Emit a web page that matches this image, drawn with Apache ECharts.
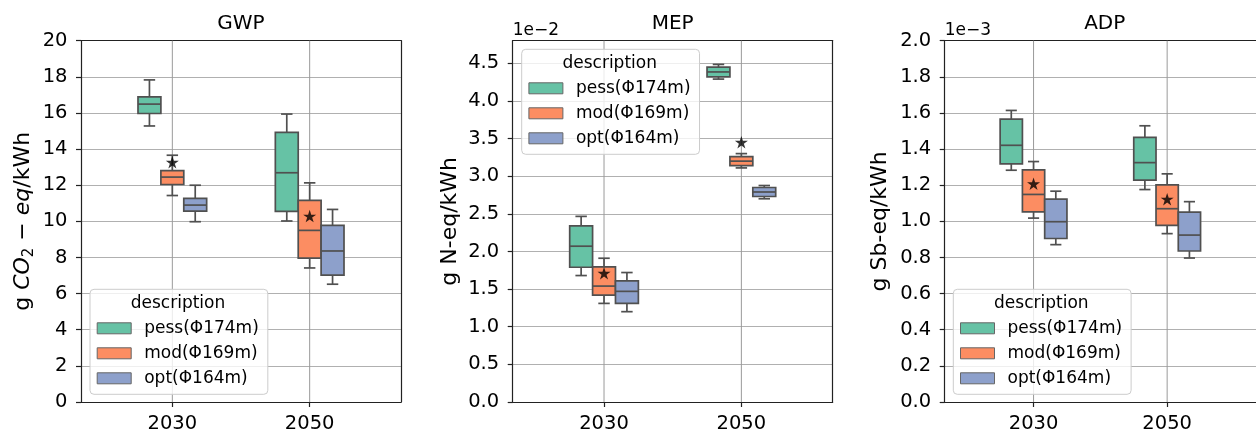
<!DOCTYPE html>
<html>
<head>
<meta charset="utf-8">
<script src="https://cdn.jsdelivr.net/npm/echarts@6/dist/echarts.min.js"></script>
<style>
html,body{margin:0;padding:0;background:#fff;}
#chart{width:1256px;height:434px;}
</style>
</head>
<body>
<div id="chart"></div>
<script>
// ---------- data ----------
const years = ['2030', '2050'];
const scenarios = ['pess(Φ174m)', 'mod(Φ169m)', 'opt(Φ164m)'];
const panelTitles = ['GWP', 'MEP', 'ADP'];

// box stats per year: [whiskerLow, q1, median, q3, whiskerHigh]
const gwpPess = [[15.28, 15.97, 16.49, 16.89, 17.83], [10.02, 10.55, 12.69, 14.93, 15.94]];
const gwpMod  = [[11.43, 12.04, 12.45, 12.81, 13.66], [7.42, 7.96, 9.50, 11.16, 12.13]];
const gwpOpt  = [[9.98, 10.57, 10.90, 11.27, 12.00], [6.52, 7.02, 8.36, 9.78, 10.66]];
const gwpStar = [13.27, 10.29];

// MEP values in units of 1e-2
const mepPess = [[1.68, 1.79, 2.07, 2.34, 2.466], [4.29, 4.32, 4.385, 4.45, 4.485]];
const mepMod  = [[1.31, 1.42, 1.54, 1.795, 1.91], [3.11, 3.14, 3.20, 3.26, 3.30]];
const mepOpt  = [[1.20, 1.31, 1.47, 1.61, 1.72], [2.70, 2.73, 2.79, 2.85, 2.876]];
const mepStar = [1.71, 3.45];

// ADP values in units of 1e-3
const adpPess = [[1.283, 1.318, 1.421, 1.566, 1.614], [1.176, 1.228, 1.325, 1.465, 1.529]];
const adpMod  = [[1.018, 1.053, 1.149, 1.285, 1.331], [0.932, 0.978, 1.070, 1.202, 1.263]];
const adpOpt  = [[0.871, 0.905, 0.998, 1.123, 1.167], [0.797, 0.836, 0.924, 1.051, 1.109]];
const adpStar = [1.208, 1.123];

const gwpTicks = [0, 2, 4, 6, 8, 10, 12, 14, 16, 18, 20];
const mepTicks = [0, 0.5, 1.0, 1.5, 2.0, 2.5, 3.0, 3.5, 4.0, 4.5];
const adpTicks = [0, 0.2, 0.4, 0.6, 0.8, 1.0, 1.2, 1.4, 1.6, 1.8, 2.0];
const exponents = ['', '1e\u22122', '1e\u22123'];

// ---------- styling ----------
const FONT = 'DejaVu Sans';
const colors = ['#66c2a5', '#fc8d62', '#8da0cb'];
const EDGE = '#505050';
const LW = 1.7;
const BOX_W = 1 / 6;
const offsets = [-1 / 6, 0, 1 / 6];
const SPINE = { color: '#222', width: 1.2 };

const panels = [
  { stats: [gwpPess, gwpMod, gwpOpt], star: gwpStar, ticks: gwpTicks, ymax: 20, dec: 0,
    left: 81, legendLeft: 90, legendTop: 289.3, nameGap: 44, rightSpine: true },
  { stats: [mepPess, mepMod, mepOpt], star: mepStar, ticks: mepTicks, ymax: 4.8, dec: 1,
    left: 512.7, legendLeft: 521.7, legendTop: 49.3, nameGap: 48, rightSpine: true },
  { stats: [adpPess, adpMod, adpOpt], star: adpStar, ticks: adpTicks, ymax: 2.0, dec: 1,
    left: 944.7, legendLeft: 953.3, legendTop: 289.3, nameGap: 50, rightSpine: false }
];
const GRID_TOP = 40.7, GRID_H = 362.6, GRID_W = 320;

const yNames = [
  '{n|g }{i|CO}{s|2}{n| \u2212 }{i|eq}{n|/kWh}',
  '{n|g N-eq/kWh}',
  '{n|g Sb-eq/kWh}'
];
const nameRich = {
  n: { fontSize: 22, fontFamily: FONT, color: '#000', lineHeight: 28, verticalAlign: 'middle' },
  i: { fontSize: 22, fontFamily: FONT, color: '#000', fontStyle: 'italic', lineHeight: 28, verticalAlign: 'middle' },
  s: { fontSize: 15, fontFamily: FONT, color: '#000', lineHeight: 28, verticalAlign: 'bottom' }
};

function makeRender(offset) {
  return function (params, api) {
    const xc = api.value(0) + offset;
    const lo = api.value(1), q1 = api.value(2), md = api.value(3), q3 = api.value(4), hi = api.value(5);
    const c = (x, y) => api.coord([x, y]);
    const half = BOX_W / 2, cap = BOX_W / 4;
    const tl = c(xc - half, q3), br = c(xc + half, q1);
    const ls = { stroke: EDGE, lineWidth: LW };
    const line = (a, b) => ({ type: 'line', shape: { x1: a[0], y1: a[1], x2: b[0], y2: b[1] }, style: ls });
    return {
      type: 'group',
      children: [
        line(c(xc, lo), c(xc, q1)),
        line(c(xc, q3), c(xc, hi)),
        line(c(xc - cap, lo), c(xc + cap, lo)),
        line(c(xc - cap, hi), c(xc + cap, hi)),
        { type: 'rect', shape: { x: tl[0], y: tl[1], width: br[0] - tl[0], height: br[1] - tl[1] },
          style: { fill: api.visual('color'), stroke: EDGE, lineWidth: LW } },
        line(c(xc - half, md), c(xc + half, md))
      ]
    };
  };
}

// vertical grid lines at the category positions, drawn through the x scale
function makeVGrid(ymax) {
  return function (params, api) {
    const a = api.coord([api.value(0), 0]), b = api.coord([api.value(0), ymax]);
    return { type: 'line', shape: { x1: a[0], y1: a[1], x2: b[0], y2: b[1] },
      style: { stroke: '#9a9a9a', lineWidth: 1 } };
  };
}

const STAR = 'path://M0,-10 L2.245,-3.09 9.511,-3.09 3.633,1.18 5.878,8.09 0,3.82 -5.878,8.09 -3.633,1.18 -9.511,-3.09 -2.245,-3.09Z';

const grid = [], xAxis = [], yAxis = [], series = [], legend = [], title = [], graphic = [];
panels.forEach((p, pi) => {
  grid.push({ left: p.left, top: GRID_TOP, width: GRID_W, height: GRID_H, show: false });
  const xi = xAxis.length, yi0 = yAxis.length;
  xAxis.push({
    type: 'value', gridIndex: pi, min: -0.665, max: 1.665, position: 'bottom',
    axisLine: { show: true, onZero: false, lineStyle: SPINE },
    axisTick: { show: true, customValues: [0, 1], length: 5, lineStyle: SPINE },
    axisLabel: { customValues: [0, 1], formatter: v => years[Math.round(v)], fontSize: 19.5,
      fontFamily: FONT, color: '#000', margin: 12 },
    splitLine: { show: false }
  });
  // top spine
  xAxis.push({
    type: 'value', gridIndex: pi, min: -0.665, max: 1.665, position: 'top',
    axisLine: { show: true, onZero: false, lineStyle: SPINE },
    axisTick: { show: false }, axisLabel: { show: false }, splitLine: { show: false }
  });
  yAxis.push({
    type: 'value', gridIndex: pi, min: 0, max: p.ymax, position: 'left',
    name: yNames[pi], nameLocation: 'middle', nameRotate: 90, nameGap: p.nameGap,
    nameTextStyle: { rich: nameRich },
    axisLine: { show: true, onZero: false, lineStyle: SPINE },
    axisTick: { show: true, customValues: p.ticks, length: 5, lineStyle: SPINE },
    axisLabel: { customValues: p.ticks, formatter: v => v.toFixed(p.dec), fontSize: 19.5,
      fontFamily: FONT, color: '#000', margin: 13.5 },
    splitLine: { show: true, lineStyle: { color: '#b0b0b0', width: 1 } }
  });
  // right spine
  yAxis.push({
    type: 'value', gridIndex: pi, min: 0, max: p.ymax, position: 'right',
    axisLine: { show: p.rightSpine, onZero: false, lineStyle: SPINE },
    axisTick: { show: false }, axisLabel: { show: false }, splitLine: { show: false }
  });
  series.push({
    type: 'custom', name: 'grid', xAxisIndex: xi, yAxisIndex: yi0,
    renderItem: makeVGrid(p.ymax), encode: { x: 0 },
    data: years.map((y, k) => [k]), z: 1, silent: true
  });
  p.stats.forEach((st, si) => {
    series.push({
      type: 'custom', name: scenarios[si], xAxisIndex: xi, yAxisIndex: yi0,
      itemStyle: { color: colors[si] },
      renderItem: makeRender(offsets[si]),
      encode: { x: 0, y: [1, 2, 3, 4, 5] },
      data: st.map((s, k) => [k].concat(s)),
      z: 2, silent: true
    });
  });
  series.push({
    type: 'scatter', name: 'mean', xAxisIndex: xi, yAxisIndex: yi0,
    symbol: STAR, symbolSize: [13, 12.5], itemStyle: { color: '#000' },
    data: p.star.map((v, k) => [k, v]), z: 5, silent: true
  });
  legend.push({
    orient: 'vertical', left: p.legendLeft, top: p.legendTop,
    padding: [29, 9, 6, 6.7], itemWidth: 34, itemHeight: 11, itemGap: 5, icon: 'rect',
    backgroundColor: 'rgba(255,255,255,0.8)', borderColor: '#cccccc', borderWidth: 1, borderRadius: 4,
    textStyle: { fontSize: 17, fontFamily: FONT, color: '#000', lineHeight: 20, padding: [0, 0, 0, 8] },
    itemStyle: { borderColor: '#666', borderWidth: 1 },
    selectedMode: false, data: scenarios
  });
  title.push({ text: panelTitles[pi], left: p.left + GRID_W / 2, top: 14, textAlign: 'center', padding: 0,
    textStyle: { fontSize: 20, fontWeight: 'normal', fontFamily: FONT, color: '#000' } });
  graphic.push({ type: 'text', x: p.legendLeft + 88, y: p.legendTop + 14, z: 100,
    style: { text: 'description', fontSize: 17, fontFamily: FONT, fill: '#000', align: 'center', verticalAlign: 'middle' } });
  if (exponents[pi]) {
    graphic.push({ type: 'text', x: p.left, y: 31, style: { text: exponents[pi], fontSize: 17,
      fontFamily: FONT, fill: '#000', align: 'left', verticalAlign: 'middle' } });
  }
});

const chart = echarts.init(document.getElementById('chart'), null, { renderer: 'canvas' });
chart.setOption({
  animation: false, backgroundColor: '#fff',
  title, grid, xAxis, yAxis, series, legend, graphic
});
</script>
</body>
</html>
